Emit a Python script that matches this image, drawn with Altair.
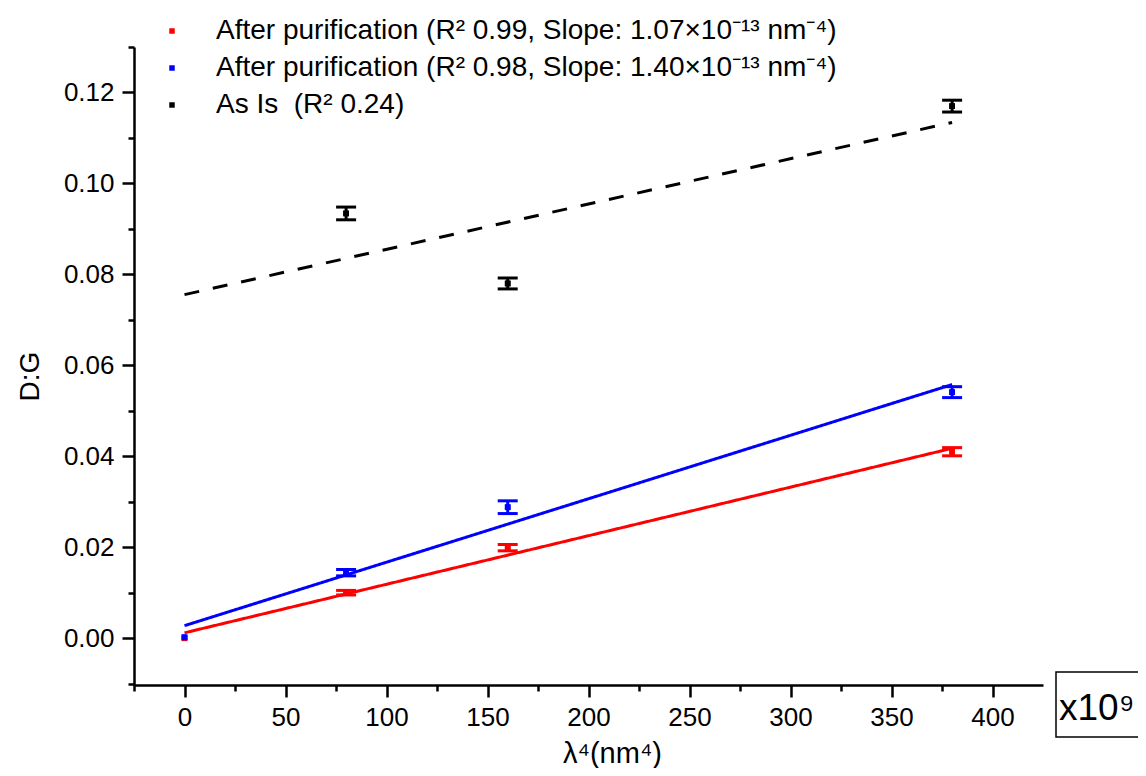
import altair as alt
import pandas as pd

labels = [
    "After purification (R\u00b2 0.99, Slope: 1.07\u00d710\u207b\u00b9\u00b3 nm\u207b\u2074)",
    "After purification (R\u00b2 0.98, Slope: 1.40\u00d710\u207b\u00b9\u00b3 nm\u207b\u2074)",
    "As Is\u00a0 (R\u00b2 0.24)",
]
colors = ["#ff0000", "#0000ff", "#000000"]

red_x = [0, 80, 160, 380]
red_y = [0.0000, 0.0100, 0.0199, 0.0410]
red_err = [0.0, 0.0005, 0.0007, 0.0009]

blue_x = [0, 80, 160, 380]
blue_y = [0.0002, 0.0144, 0.0288, 0.0541]
blue_err = [0.0, 0.0007, 0.0014, 0.0012]

black_x = [80, 160, 380]
black_y = [0.0934, 0.0780, 0.1170]
black_err = [0.0014, 0.0012, 0.0013]

x_ticks = list(range(-25, 401, 25))
y_ticks = [round(v * 0.01, 2) for v in range(-1, 14)]

rows = []
for lab, xs_, ys_, es_ in [(labels[0], red_x, red_y, red_err),
                           (labels[1], blue_x, blue_y, blue_err),
                           (labels[2], black_x, black_y, black_err)]:
    for a, b, c in zip(xs_, ys_, es_):
        rows.append({"series": lab, "x": a, "y": b, "err": c})
df = pd.DataFrame(rows)
one = pd.DataFrame({"k": [0]})

FONT = "Liberation Sans"

x_axis = alt.Axis(
    values=x_ticks,
    labelExpr="datum.value % 50 == 0 ? format(datum.value, 'd') : ''",
    tickSize={"condition": {"test": "datum.value % 50 == 0", "value": 12}, "value": 6},
    title="\u03bb\u2074(nm\u2074)",
    titleX=478, titleY=77, titleBaseline="alphabetic", titleAlign="center",
    titleFontSize=29, titleFont=FONT, titleFontWeight="normal", titleColor="black",
    labelFontSize=26, labelFont=FONT, labelColor="black", labelPadding=7,
    labelOverlap=False, labelFlush=False, labelBound=False,
    domainColor="black", domainWidth=2.5, tickColor="black", tickWidth=2.5,
    grid=False,
)
y_axis = alt.Axis(
    values=y_ticks,
    labelExpr="abs(round(datum.value * 100)) % 2 == 0 ? format(datum.value, '.2f') : ''",
    tickSize={"condition": {"test": "abs(round(datum.value * 100)) % 2 == 0", "value": 12}, "value": 6},
    title="D:G",
    titleX=-104, titleY=329, titleAngle=270, titleBaseline="middle", titleAlign="center",
    titleFontSize=28, titleFont=FONT, titleFontWeight="normal", titleColor="black",
    labelFontSize=26, labelFont=FONT, labelColor="black", labelPadding=8,
    labelOverlap=False, labelFlush=False, labelBound=False,
    domainColor="black", domainWidth=2.5, tickColor="black", tickWidth=2.5,
    grid=False,
)

xsc = alt.Scale(domain=[-25, 425], nice=False, zero=False)
ysc = alt.Scale(domain=[-0.0103, 0.13], nice=False, zero=False)
cscale = alt.Scale(domain=labels, range=colors)

X = alt.X("x:Q", scale=xsc, axis=x_axis)
Y = alt.Y("y:Q", scale=ysc, axis=y_axis)
C = alt.Color("series:N", scale=cscale, legend=None)

base = alt.Chart(df)

legend_points = base.mark_square(size=30, opacity=1).encode(
    x=X, y=Y,
    color=alt.Color(
        "series:N", scale=cscale,
        legend=alt.Legend(
            title=None, orient="none", legendX=24, legendY=-30,
            labelFontSize=28, labelFont=FONT, labelColor="black", labelLimit=1000,
            symbolType="square", symbolSize=30, symbolStrokeWidth=0,
            labelOffset=30, rowPadding=9, padding=0,
        ),
    ),
)

fit = base.transform_regression(
    "x", "y", groupby=["series"], extent=[0, 380]
).mark_line(strokeWidth=3).encode(
    x=X, y=Y, color=C,
    strokeDash=alt.StrokeDash(
        "series:N",
        scale=alt.Scale(domain=labels, range=[[1, 0], [1, 0], [15, 14]]),
        legend=None,
    ),
)

eb = base.transform_filter("datum.err > 0").transform_calculate(
    lo="datum.y - datum.err", hi="datum.y + datum.err"
)
stems = eb.mark_rule(strokeWidth=3).encode(
    x=X, y=alt.Y("lo:Q", scale=ysc, axis=y_axis), y2="hi:Q", color=C
)
caps_lo = eb.mark_tick(orient="horizontal", size=20, thickness=3, opacity=1).encode(
    x=X, y=alt.Y("lo:Q", scale=ysc, axis=y_axis), color=C
)
caps_hi = eb.mark_tick(orient="horizontal", size=20, thickness=3, opacity=1).encode(
    x=X, y=alt.Y("hi:Q", scale=ysc, axis=y_axis), color=C
)

points = base.mark_square(size=34, opacity=1).encode(x=X, y=Y, color=C)

box = alt.Chart(one).mark_rect(fillOpacity=0, stroke="black", strokeWidth=1.5).encode(
    x=alt.value(922), x2=alt.value(1010), y=alt.value(625), y2=alt.value(690)
)
mult = alt.Chart(one).mark_text(
    text="x10\u2079", align="left", baseline="alphabetic", fontSize=37, font=FONT, color="black"
).encode(x=alt.value(925), y=alt.value(673))

chart = alt.layer(legend_points, fit, stems, caps_lo, caps_hi, points, box, mult).properties(
    width=909, height=638,
    padding={"left": 126, "top": 39, "right": 95, "bottom": 83},
    autosize=alt.AutoSizeParams(type="none"),
).configure_view(strokeOpacity=0)

chart.save("out.html", embed_options={"renderer": "svg", "actions": False})
